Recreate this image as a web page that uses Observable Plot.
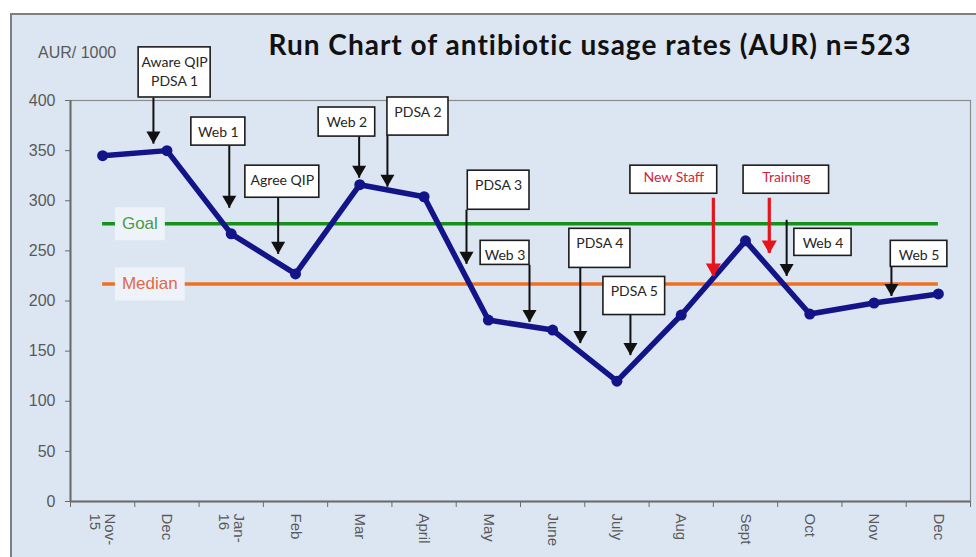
<!DOCTYPE html>
<html><head><meta charset="utf-8">
<script src="https://cdn.jsdelivr.net/npm/d3@7"></script>
<script src="https://cdn.jsdelivr.net/npm/@observablehq/plot@0.6"></script>
<style>
html,body{margin:0;padding:0;background:#fff;width:976px;height:557px;overflow:hidden;}
#panel{position:absolute;left:10px;top:13px;width:990px;height:570px;background:#dce6f2;border:2px solid #7f7f7f;box-sizing:border-box;}
#title{position:absolute;left:590px;top:30px;transform:translateX(-50%);font:700 28px Lato,sans-serif;letter-spacing:1px;white-space:nowrap;color:#111;line-height:28px;}
#ylab{position:absolute;left:38px;top:45px;font:16px "Liberation Sans",Arial,sans-serif;color:#595959;line-height:16px;}
#chart svg{position:absolute;left:0;top:0;}
</style></head><body>
<div id="panel"></div>
<div id="title">Run Chart of antibiotic usage rates (AUR) n=523</div>
<div id="ylab">AUR/ 1000</div>
<div id="chart"></div>
<script>
// ---- data ----
const months = ["Nov-\n15","Dec","Jan-\n16","Feb","Mar","April","May","June","July","Aug","Sept","Oct","Nov","Dec"];
const aur = [345,350,267,227,316,304,181,171,120,186,260,187,198,207];
const yTicks = [0,50,100,150,200,250,300,350,400];
const goal = 277;
const median = 217;
const refLabels = ["Goal","Median"];

// annotations (in chart units: month index / AUR value)
const noteText = ["Aware QIP\nPDSA 1","Web 1","Agree QIP","Web 2","PDSA 2","PDSA 3","Web 3","PDSA 4","PDSA 5","New Staff","Training","Web 4","Web 5"];
const noteKind = ["qi","qi","qi","qi","qi","qi","qi","qi","qi","staff","staff","qi","qi"];
const arrowX    = [0.79,1.97,2.73,3.99,4.43,5.66,6.64,7.43,8.21,9.50,10.37,10.64,12.27];
const arrowFrom = [403,355,303,364,365,291,236,233,186,303,303,281,234];
const arrowTo   = [357,293,247,323,314,237,179,158,146,225,248,225,205];
const boxLeft   = [0.56,1.38,2.22,3.36,4.43,5.68,5.88,7.26,7.79,8.21,9.97,10.76,12.26];
const boxRight  = [1.68,2.22,3.37,4.24,5.38,6.64,6.64,8.21,8.75,9.56,11.30,11.65,13.14];
const boxTop    = [453,383,335,393,403,330,260,272,224,335,335,272,260];
const boxBottom = [403,355,303,364,365,291,236,233,186,307,307,245,234];

// ---- build ----
const table = months.map((m, i) => ({i, m, v: aur[i]}));
const notes = noteText.map((t, k) => ({t, kind: noteKind[k], ax: arrowX[k], from: arrowFrom[k], to: arrowTo[k],
  l: boxLeft[k], r: boxRight[k], top: boxTop[k], bottom: boxBottom[k]}));
const refs = [{t: refLabels[0], v: goal}, {t: refLabels[1], v: median}];
const isStaff = d => d.kind === "staff";
const notStaff = d => d.kind !== "staff";

const LINE = "#141489";
const plot = Plot.plot({
  width: 976, height: 557,
  marginLeft: 70, marginRight: 6, marginTop: 100, marginBottom: 56,
  style: {background: "transparent", color: "#595959", fontFamily: "'Liberation Sans', Arial, sans-serif", overflow: "visible"},
  x: {type: "linear", domain: [-0.5, 13.5]},
  y: {domain: [0, 400]},
  marks: [
    Plot.frame({stroke: "#8c8c8c", strokeWidth: 1.2}),
    Plot.axisY({ticks: yTicks, tickSize: 5, tickPadding: 10, fontSize: 16, label: null, stroke: "#6b6b6b"}),
    Plot.axisX({ticks: d3.range(15).map(i => i - 0.5), tickSize: 6, tickFormat: () => "", label: null, stroke: "#6b6b6b"}),
    Plot.axisX({ticks: d3.range(14), tickSize: 0, tickPadding: 12, tickRotate: 90, tickFormat: i => months[i], fontSize: 15, label: null}),
    Plot.ruleX([-0.5], {stroke: "#6b6b6b", strokeWidth: 2}),
    Plot.ruleY([0], {stroke: "#6b6b6b", strokeWidth: 2}),
    Plot.ruleY([goal], {x1: 0, x2: 13, stroke: "#17901a", strokeWidth: 3.5}),
    Plot.ruleY([median], {x1: 0, x2: 13, stroke: "#f07021", strokeWidth: 3.5}),
    Plot.text(refs, {x: 0.3, y: "v", text: "t", textAnchor: "start", fontSize: 17,
      fill: d => d.t === refLabels[0] ? "#4a9a4a" : "#e2684a"}),
    Plot.line(table, {x: "i", y: "v", stroke: LINE, strokeWidth: 5.5, strokeLinejoin: "round"}),
    Plot.dot(table, {x: "i", y: "v", r: 5.5, fill: LINE}),
    Plot.rect(notes, {x1: "l", x2: "r", y1: "bottom", y2: "top", fill: "white", stroke: "#1c1c1c", strokeWidth: 1.6}),
    Plot.text(notes.filter(notStaff), {x: d => (d.l + d.r) / 2, y: "top", text: "t", dy: 6, lineAnchor: "top",
      fill: "#262626", fontSize: 14, fontFamily: "Lato, sans-serif", lineHeight: 1.35}),
    Plot.text(notes.filter(isStaff), {x: d => (d.l + d.r) / 2, y: "top", text: "t", dy: 6, lineAnchor: "top",
      fill: "#d0283a", fontSize: 14, fontFamily: "Lato, sans-serif"}),
    Plot.link(notes.filter(notStaff), {x1: "ax", x2: "ax", y1: "from", y2: "to", stroke: "#111", strokeWidth: 2}),
    Plot.dot(notes.filter(notStaff), {x: "ax", y: "to", symbol: "triangle", rotate: 180, r: 5.2, fill: "#111", dy: -8}),
    Plot.link(notes.filter(isStaff), {x1: "ax", x2: "ax", y1: "from", y2: "to", stroke: "#e8141c", strokeWidth: 3.2}),
    Plot.dot(notes.filter(isStaff), {x: "ax", y: "to", symbol: "triangle", rotate: 180, r: 5.6, fill: "#e8141c", dy: -8})
  ]
});
document.getElementById("chart").appendChild(plot);

// light background boxes behind the Goal / Median labels
plot.querySelectorAll("text").forEach(t => {
  if (!refLabels.includes(t.textContent)) return;
  const b = t.getBBox();
  const r = document.createElementNS("http://www.w3.org/2000/svg", "rect");
  r.setAttribute("x", b.x - 7); r.setAttribute("y", b.y - 7);
  r.setAttribute("width", b.width + 14); r.setAttribute("height", b.height + 14);
  r.setAttribute("fill", "#eef3f9");
  if (t.getAttribute("transform")) r.setAttribute("transform", t.getAttribute("transform"));
  t.parentNode.insertBefore(r, t);
});
</script>
</body></html>
